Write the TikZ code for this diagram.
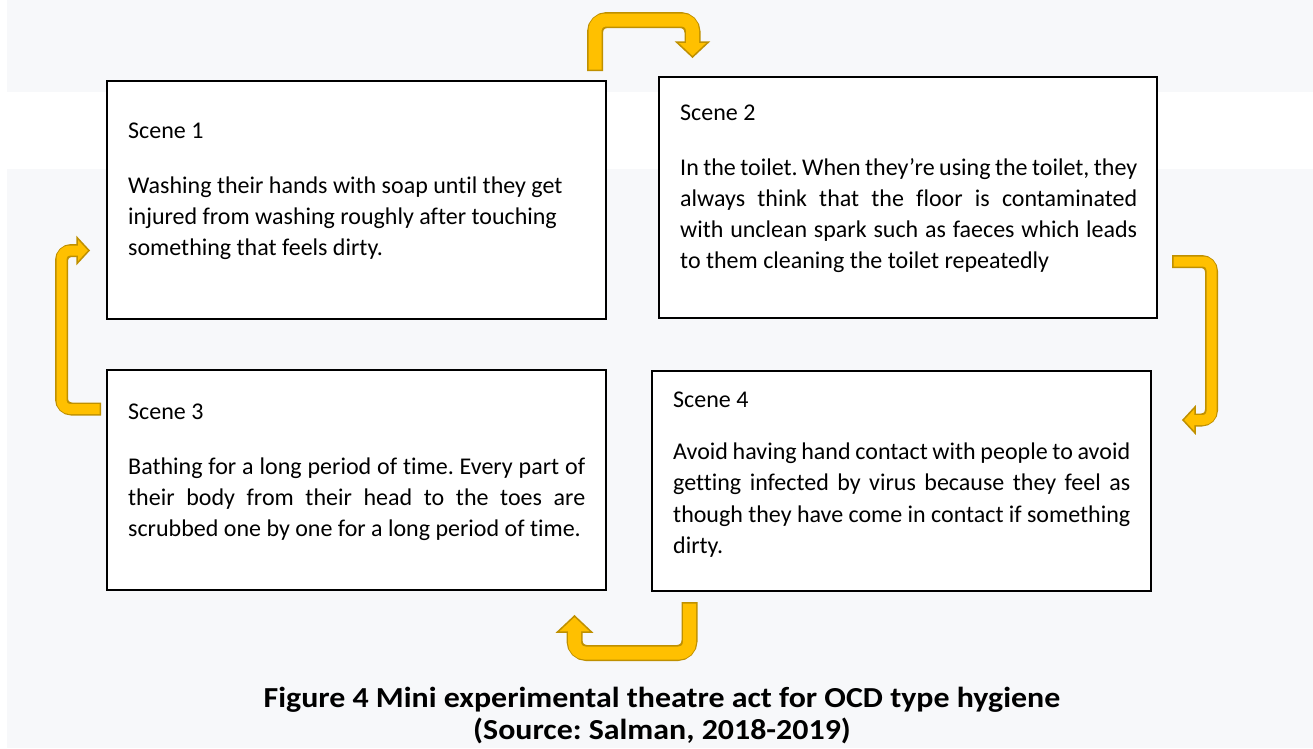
\documentclass[tikz,border=0pt]{standalone}
\usepackage{fontspec}
\setmainfont{Carlito}[Ligatures={TeX,NoCommon}]
\definecolor{bandgray}{HTML}{F7F8FA}
\definecolor{arrowfill}{HTML}{FFC000}
\definecolor{arrowline}{HTML}{BF9000}

\tikzset{
  scenebox/.style={draw=black, line width=2.5pt, fill=white, minimum width=499pt, inner sep=0pt},
  scenetext/.style={anchor=north west, text width=457pt, align=justify, inner sep=0pt, font=\fontsize{24}{31}\selectfont\frenchspacing},
  caption/.style={anchor=north, align=center, inner sep=0pt, font=\fontsize{29}{32}\selectfont\bfseries\frenchspacing},
  bigline/.style={draw=arrowline, line width=16pt, rounded corners=12pt},
  bigfill/.style={draw=arrowfill, line width=13pt, rounded corners=10.5pt, shorten <=1.5pt, shorten >=-3pt},
  smallline/.style={draw=arrowline, line width=13pt, rounded corners=10pt},
  smallfill/.style={draw=arrowfill, line width=10pt, rounded corners=8.5pt, shorten <=1.5pt, shorten >=-3pt},
  headfill/.style={fill=arrowfill, draw=arrowline, line width=1.5pt}
}

\begin{document}
\begin{tikzpicture}[x=1pt, y=-1pt]

\useasboundingbox (0,0) rectangle (1313,748);
\fill[bandgray] (7,0) rectangle (1313,92);
\fill[bandgray] (7,169) rectangle (1313,748);

% scene boxes
\node[scenebox, minimum height=238pt] (s1) at (356.5,200) {};
\node[scenebox, minimum height=241pt, minimum width=498pt] (s2) at (908,197.5) {};
\node[scenebox, minimum height=220pt] (s3) at (356.5,480) {};
\node[scenebox, minimum height=220pt] (s4) at (901.5,481) {};

\node[scenetext] (t1text) at (128,122.5) {Scene 1\\[24pt]
  Washing their hands with soap until they get\\
  injured from washing roughly after touching\\
  something that feels dirty.};
\node[scenetext] (t2text) at (680,105) {Scene 2\\[24pt]
  In the toilet. When they’re using the toilet, they\linebreak
  always think that the floor is contaminated\linebreak
  with unclean spark such as faeces which leads\linebreak
  to them cleaning the toilet repeatedly};
\node[scenetext] (t3text) at (128,404) {Scene 3\\[24pt]
  Bathing for a long period of time. Every part of\linebreak
  their body from their head to the toes are\linebreak
  scrubbed one by one for a long period of time.};
\node[scenetext, font=\fontsize{24}{31.5}\selectfont\frenchspacing] (t4text) at (673,392) {Scene 4\\[20pt]
  Avoid having hand contact with people to avoid\linebreak
  getting infected by virus because they feel as\linebreak
  though they have come in contact if something\linebreak
  dirty.};

% bent arrows
\coordinate (a1) at (595,71);
\coordinate (b1) at (692.5,42);
\coordinate (a2) at (1172,261.5);
\coordinate (b2) at (1195,420);
\coordinate (a3) at (101,409);
\coordinate (b3) at (77,250.5);
\coordinate (a4) at (689.5,602);
\coordinate (b4) at (574.5,632);

\draw[bigline] (a1) -- ++(0,-51) -| (b1);
\filldraw[headfill, shift={(b1)}, rotate=-90] (0,-16) -- (15,0) -- (0,16) -- cycle;
\draw[bigfill] (a1) -- ++(0,-51) -| (b1);

\draw[smallline] (a2) -- ++(39.5,0) |- (b2);
\filldraw[headfill, shift={(b2)}, rotate=180] (0,-13) -- (12,0) -- (0,13) -- cycle;
\draw[smallfill] (a2) -- ++(39.5,0) |- (b2);

\draw[smallline] (a3) -- ++(-39.5,0) |- (b3);
\filldraw[headfill, shift={(b3)}] (0,-13) -- (12,0) -- (0,13) -- cycle;
\draw[smallfill] (a3) -- ++(-39.5,0) |- (b3);

\draw[bigline] (a4) -- ++(0,51) -| (b4);
\filldraw[headfill, shift={(b4)}, rotate=90] (0,-17) -- (16,0) -- (0,17) -- cycle;
\draw[bigfill] (a4) -- ++(0,51) -| (b4);

\node[caption] (cap) at (662,687) {\scalebox{1.1}[1]{Figure 4 Mini experimental theatre act for OCD type hygiene}\\
  \scalebox{1.1}[1]{(Source: Salman, 2018-2019)}};

\end{tikzpicture}
\end{document}
